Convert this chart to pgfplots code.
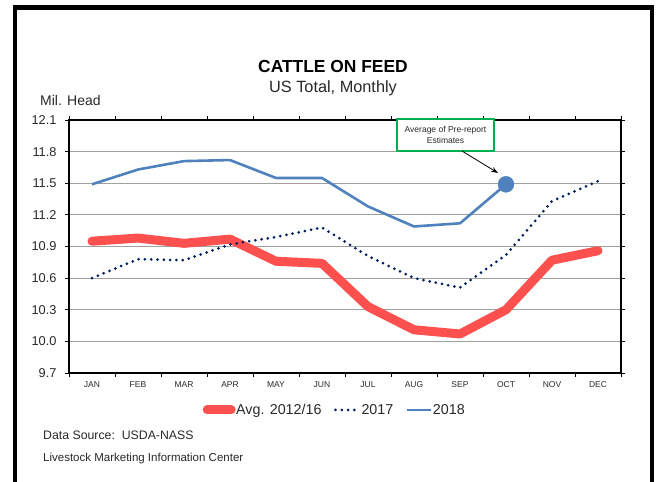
\documentclass[border=0pt]{standalone}
\usepackage{pgfplots}
\pgfplotsset{compat=1.18}
\usepackage{fontspec}
\setmainfont{Liberation Sans}
\usetikzlibrary{arrows.meta}
\definecolor{cred}{RGB}{255,80,80}
\definecolor{cblue}{RGB}{79,129,189}
\definecolor{cnavy}{RGB}{0,32,96}
\definecolor{cgreen}{RGB}{0,176,80}
\definecolor{cgrid}{RGB}{160,160,160}
\definecolor{ctxt}{RGB}{40,40,40}
\begin{document}
\begin{tikzpicture}[x=1pt,y=1pt]
\path[use as bounding box] (0,0) rectangle (657,482);
% frame
\draw[black,line width=4.5pt] (15,-10) -- (15,474.5) -- (652,474.5) -- (652,-10);
\begin{axis}[
  at={(69pt,109pt)}, anchor=south west,
  width=552pt, height=253pt, scale only axis,
  xmin=0.5, xmax=12.5, ymin=9.7, ymax=12.1,
  xtick={1,...,12},
  xticklabels={JAN,FEB,MAR,APR,MAY,JUN,JUL,AUG,SEP,OCT,NOV,DEC},
  minor xtick={0.5,1.5,...,12.5},
  major x tick style={draw=none},
  ytick={9.7,10.0,...,12.1},
  yticklabels={9.7,10.0,10.3,10.6,10.9,11.2,11.5,11.8,12.1},
  tick align=outside,
  major tick length=4pt, minor tick length=4pt,
  tick style={black, line width=0.8pt},
  ymajorgrids, grid style={cgrid, line width=1pt},
  axis line style={black, line width=1.6pt},
  /pgf/number format/assume math mode=true,
  yticklabel style={font=\fontsize{12.8}{15}\selectfont, text=ctxt, xshift=-5pt},
  xticklabel style={font=\fontsize{8.5}{10}\selectfont, text=ctxt, yshift=-1pt},
  legend columns=3,
  legend style={at={(0.48,-0.146)}, anchor=center, draw=none, fill=none,
    font=\fontsize{14.3}{17}\selectfont, text=ctxt,
    nodes={inner xsep=0.5pt},
    /tikz/every even column/.append style={column sep=12pt}},
  legend cell align=left,
  legend image code/.code={\draw[#1] (0pt,0pt) -- (24pt,0pt);},
  clip=false,
]
\addplot[cred, line width=9pt, line join=round, line cap=round] coordinates {
(1,10.95) (2,10.98) (3,10.93) (4,10.97) (5,10.76) (6,10.74)
(7,10.33) (8,10.11) (9,10.07) (10,10.30) (11,10.77) (12,10.86)};
\addlegendentry{Avg. 2012/16}
\addplot[cnavy, line width=3pt, line cap=round, dash pattern=on 0pt off 6.3pt] coordinates {
(1,10.60) (2,10.78) (3,10.77) (4,10.92) (5,10.99) (6,11.08)
(7,10.81) (8,10.60) (9,10.51) (10,10.82) (11,11.33) (12,11.52)};
\addlegendentry{2017}
\addplot[cblue, line width=2.6pt, line join=round] coordinates {
(1,11.49) (2,11.63) (3,11.71) (4,11.72) (5,11.55) (6,11.55)
(7,11.28) (8,11.09) (9,11.12) (10,11.49)};
\addlegendentry{2018}
\addplot[cblue, only marks, mark=*, mark size=8pt, forget plot] coordinates {(10,11.49)};
\end{axis}
% annotation
\node[draw=cgreen, line width=1.6pt, fill=white, minimum width=97pt, minimum height=32pt,
  align=center, inner sep=1pt, text=ctxt, font=\fontsize{8.5}{10.5}\selectfont]
  at (445.5,347) {Average of Pre-report\\Estimates};
\draw[-{Stealth[length=7pt,width=5pt]}, line width=0.8pt] (462,331) -- (498,309);
% titles
\node[font=\bfseries\fontsize{17.4}{19}\selectfont] at (333,415) {CATTLE ON FEED};
\node[font=\fontsize{16.3}{18}\selectfont, text=ctxt] at (333,394) {US Total, Monthly};
\node[font=\fontsize{14}{16}\selectfont, text=ctxt, anchor=west, inner sep=0pt] at (40,381) {Mil. Head};
\node[font=\fontsize{12.3}{15}\selectfont, text=ctxt, anchor=west, inner sep=0pt] at (43,47) {Data Source:\ \ USDA-NASS};
\node[font=\fontsize{11.5}{13}\selectfont, text=ctxt, anchor=west, inner sep=0pt] at (43,23) {Livestock Marketing Information Center};
\end{tikzpicture}
\end{document}
